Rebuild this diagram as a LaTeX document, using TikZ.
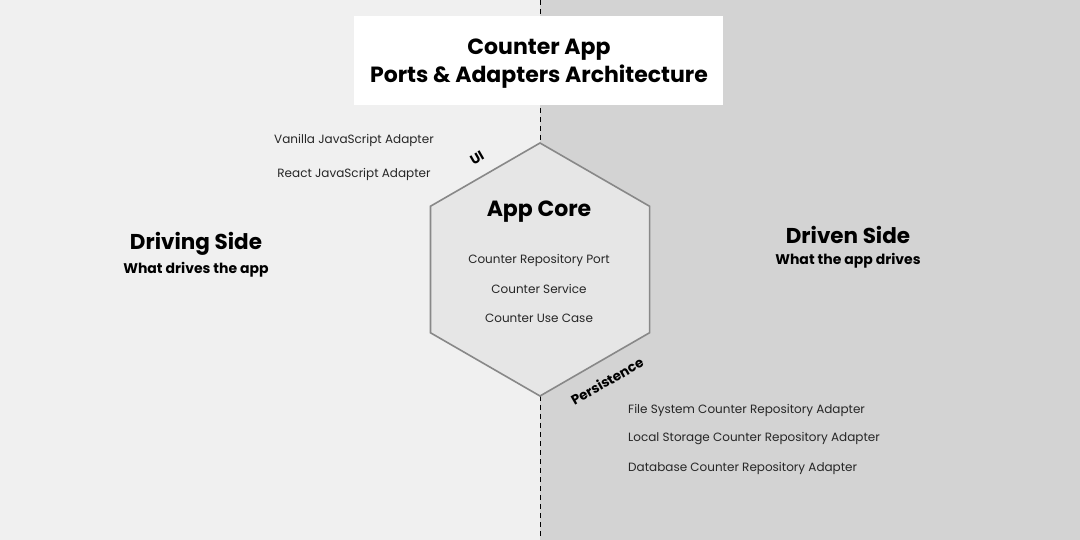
\documentclass[tikz,border=0pt]{standalone}
\usepackage{fontspec}
\setmainfont{Poppins}
\usetikzlibrary{positioning}
\definecolor{drivingbg}{HTML}{F0F0F0}
\definecolor{drivenbg}{HTML}{D3D3D3}
\definecolor{corefill}{HTML}{E6E6E6}
\definecolor{coreline}{HTML}{888888}
\begin{document}
\begin{tikzpicture}[x=1pt, y=-1pt,
    smalltext/.style={font=\fontsize{12}{14}\selectfont, text=black!85, inner sep=0pt},
    sidetitle/.style={font=\fontsize{21.5}{24}\selectfont\bfseries, inner sep=0pt},
    sidesub/.style={font=\fontsize{14}{16}\selectfont\bfseries, inner sep=0pt},
    portlabel/.style={font=\fontsize{13.5}{16}\selectfont\bfseries, rotate=30, inner sep=0pt}
]
    \useasboundingbox (0,0) rectangle (1080,540);
    % Background halves
    \fill [drivingbg] (0,0) rectangle (540,540);
    \fill [drivenbg] (540,0) rectangle (1080,540);
    % - the border between the sides
    \draw [black, dash pattern=on 5pt off 4pt] (540,0) -- (540,540);

    % Title
    \fill [white] (354,16) rectangle (723,105);
    \node at (539,63.5) [align=center, font=\fontsize{22}{28}\selectfont\bfseries](title){Counter App\\Ports \& Adapters Architecture};

    % App core hexagon
    \coordinate (core) at (540,269.5);
    \draw [fill=corefill, draw=coreline, line width=1.6pt]
        (core) ++(0,-126.5) -- ++(30:126.5) -- ++(90:126.5) -- ++(150:126.5) -- ++(210:126.5) -- ++(270:126.5) -- cycle;
    \node at (539,212) [font=\fontsize{22}{24}\selectfont\bfseries, inner sep=0pt](corename){App Core};
    \node at (539,260) [smalltext](port){Counter Repository Port};
    \node at (539,289) [smalltext](service){Counter Service};
    \node at (539,318) [smalltext](usecase){Counter Use Case};
    % - the ports
    \node at (477,158) [portlabel](ui){UI};
    \node at (607,381) [portlabel](persistence){Persistence};

    % Driving side
    \node at (196,244) [sidetitle](driving){Driving Side};
    \node at (196,270) [sidesub](drivingsub){What drives the app};
    \node at (354,140) [smalltext](vanilla){Vanilla JavaScript Adapter};
    \node at (354,174) [smalltext](react){React JavaScript Adapter};

    % Driven side
    \node at (848,235) [sidetitle](driven){Driven Side};
    \node at (848,261) [sidesub](drivensub){What the app drives};
    \node at (628,410) [smalltext, anchor=west](filesystem){File System Counter Repository Adapter};
    \node at (628,439) [smalltext, anchor=west](localstorage){Local Storage Counter Repository Adapter};
    \node at (628,468) [smalltext, anchor=west](database){Database Counter Repository Adapter};
\end{tikzpicture}
\end{document}
